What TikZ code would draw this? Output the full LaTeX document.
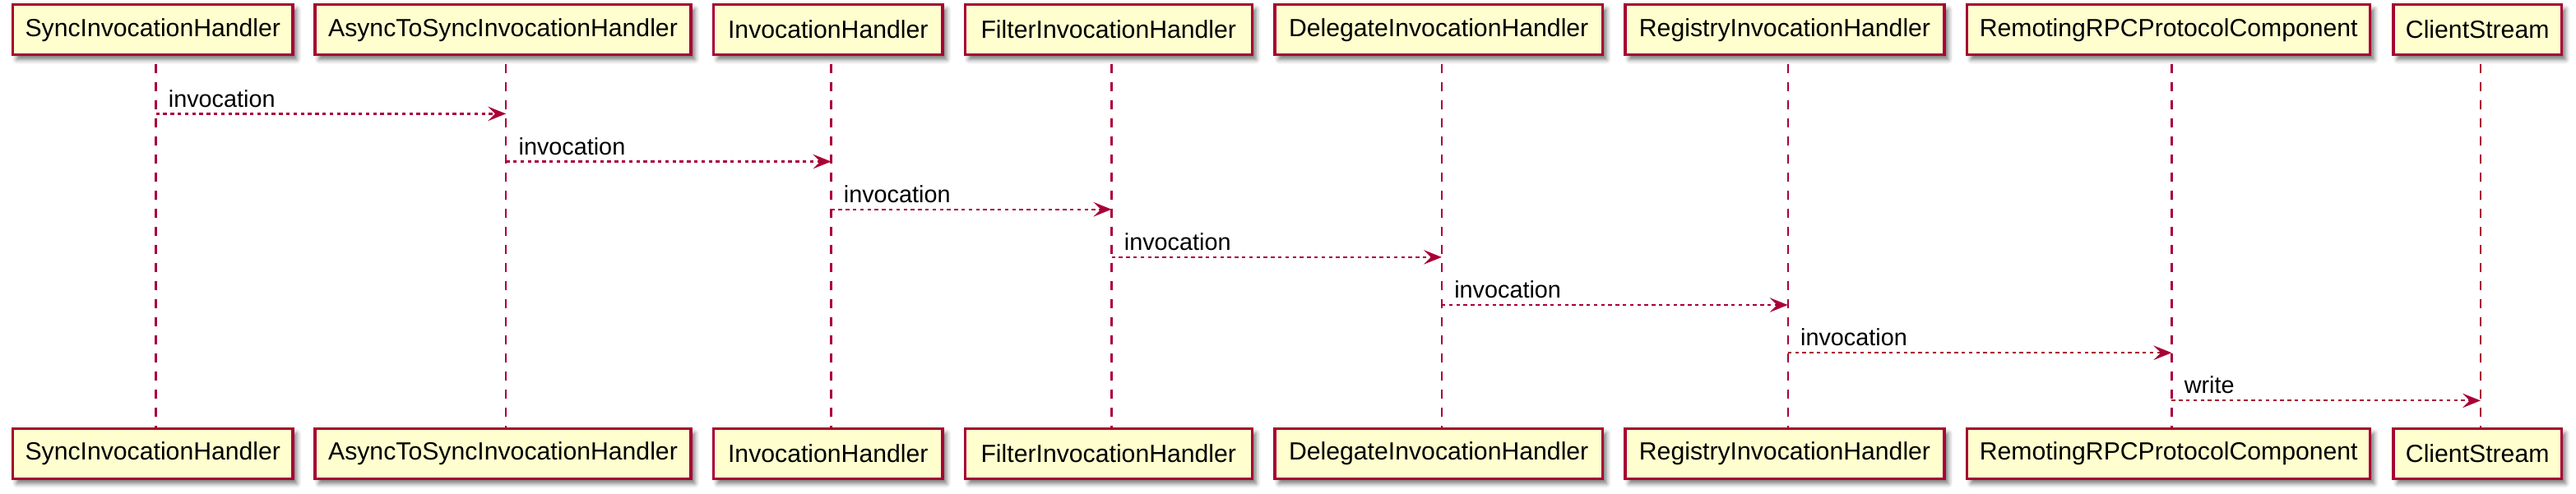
\documentclass[tikz,border=0pt]{standalone}
\usepackage{fontspec}
\setmainfont{Liberation Sans}
\usetikzlibrary{arrows.meta,shadows.blur,calc}
\definecolor{pumlred}{HTML}{A80036}
\definecolor{pumlfill}{HTML}{FEFECE}
\begin{document}
\begin{tikzpicture}[x=1pt,y=-1pt,
  part/.style={draw=pumlred, fill=pumlfill, line width=1.6pt, minimum height=30.5pt, inner sep=0pt,
    font=\fontsize{15.1}{18}\selectfont,
    blur shadow={shadow xshift=2.4pt, shadow yshift=-2.8pt, shadow blur radius=2.8pt, shadow opacity=55}},
  life/.style={draw=pumlred, line width=1.1pt, dash pattern=on 5.5pt off 5.5pt, dash phase=5.5pt},
  msg/.style={draw=pumlred, line width=1.1pt, dash pattern=on 2.2pt off 2.2pt,
    -{Stealth[length=11pt,width=8.8pt,inset=4.4pt]}},
  lbl/.style={anchor=base west, inner sep=0pt, font=\fontsize{14.4}{17}\selectfont}]
\useasboundingbox (0,0) rectangle (1566,300);
\foreach \i/\c/\w/\t in {
  1/92.9/170.15/SyncInvocationHandler,
  2/305.75/228.5/AsyncToSyncInvocationHandler,
  3/503.4/139.15/InvocationHandler,
  4/673.9/174.5/FilterInvocationHandler,
  5/874.6/199.15/DelegateInvocationHandler,
  6/1085/194/RegistryInvocationHandler,
  7/1318.35/245/RemotingRPCProtocolComponent,
  8/1506.1/102.15/ClientStream} {
  \coordinate (l\i) at (\c+1.85,33.35);
  \coordinate (m\i) at (\c+1.85,260.8);
  \draw[life] (l\i) -- (m\i);
  \node[part, minimum width=\w pt] (t\i) at (\c,18.1) {\t};
  \node[part, minimum width=\w pt] (b\i) at (\c,276.05) {\t};
}
\foreach \i/\j/\y/\t in {
  1/2/69.2/invocation,
  2/3/98.28/invocation,
  3/4/127.36/invocation,
  4/5/156.44/invocation,
  5/6/185.52/invocation,
  6/7/214.6/invocation,
  7/8/243.68/write} {
  \coordinate (y\i) at (0,\y);
  \draw[msg] (l\i |- y\i) -- (l\j |- y\i);
  \node[lbl] (lab\i) at ($(l\i |- y\i)+(7.5,-4.2)$) {\t};
}
\end{tikzpicture}
\end{document}
